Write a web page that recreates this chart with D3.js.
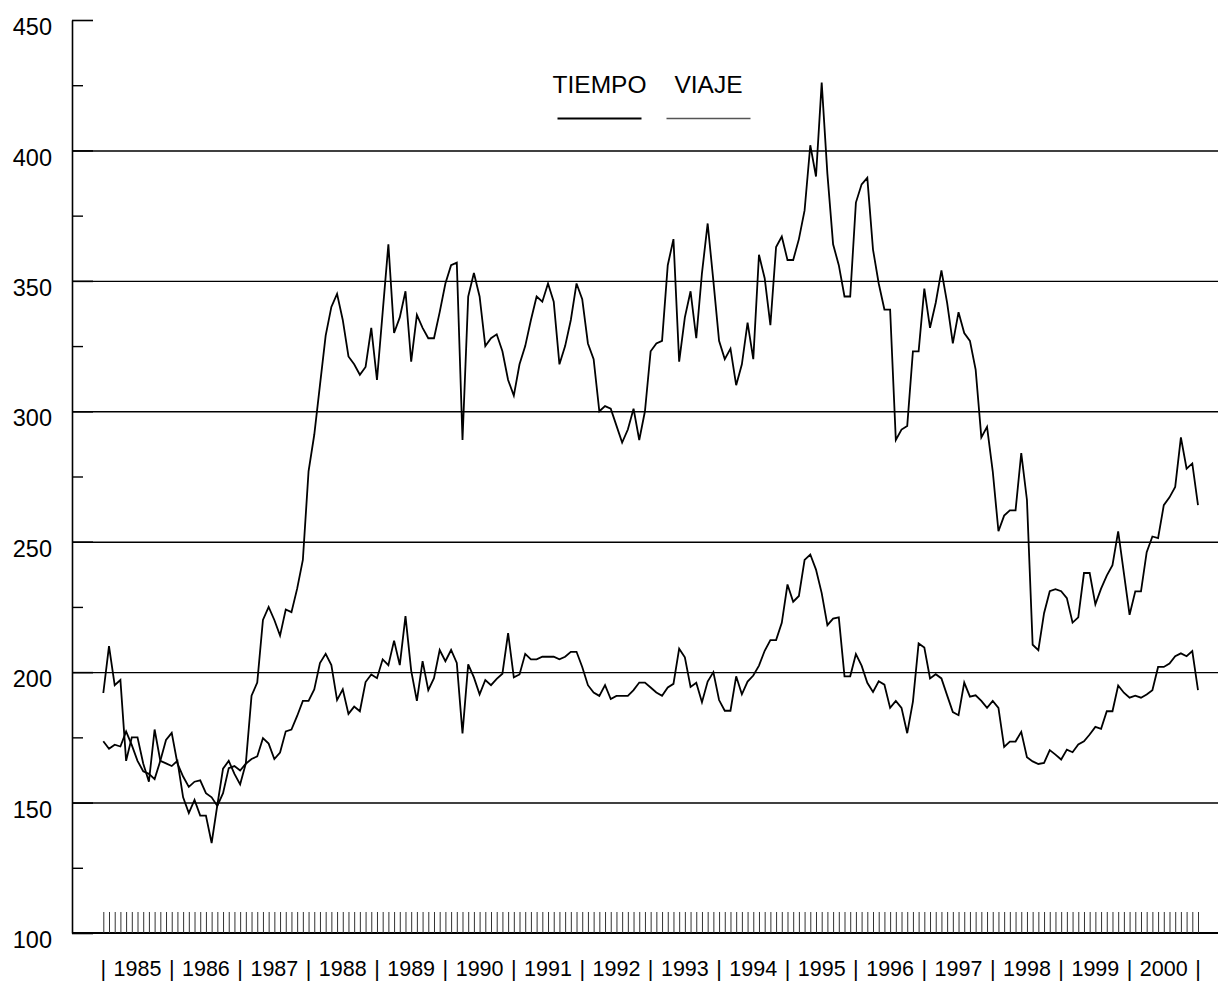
<!DOCTYPE html>
<html>
<head>
<meta charset="utf-8">
<script src="https://cdn.jsdelivr.net/npm/d3@7"></script>
<style>
  html, body { margin: 0; padding: 0; background: #fff; }
  svg { display: block; }
  text { font-family: "Liberation Sans", Arial, sans-serif; fill: #000; }
</style>
</head>
<body>
<svg id="chart" width="1218" height="983"></svg>
<script>
// ---- data (monthly, Jan 1985 onward) ----
const years = [1985,1986,1987,1988,1989,1990,1991,1992,1993,1994,1995,1996,1997,1998,1999,2000];
const yMajorTicks = [100,150,200,250,300,350,400,450];
const yMinorTicks = [125,175,225,275,325,375,425];
const gridValues = [150,200,250,300,350,400];
const seriesNames = ["TIEMPO","VIAJE"];

const tiempo = [
192,210,195,197,166,175,175,165,158,178,166,165,
164,166,152,146,151,145,145,134.5,149,163,166,161,
157,165,191,196,220,225,220,214,224,223,232,243,
277,291,310,329,340,345,335,321,318,314,317,332,
312,338,364,330,336,346,319,337,332,328,328,338,
349,356,357,289,344,353,344,325,328,329.5,323,312,
306,318,325,335,344,342,349,342,318,325,335,349,
343,326,320,300,302,301,294.5,288,293,301,289,300,
323,326,327,356,366,319,336,346,328,353,372,350,
327,320,324,310,318,334,320,360,351,333,363,367,
358,358,366,377,402,390,426,391,364,356,344,344,
380,387,389.5,362,349,339,339,289,293,294.4,323,323,
347,332,341.6,354,341.6,326,338,330,327,316,290,294,
277,254,260,262,262,284,266,210.5,208.4,222.6,231,231.8,
231,228.4,219,221,238,238,226,232,237,241,254,238,
222,231,231,246,252,251.4,264,267,271,290,278,280,
264
];

const viaje = [
173.5,170.6,172.2,171.5,177.3,172,166,162,161,159,166,174,
176.7,165,160,156,158,158.5,153.6,152,148.7,153.6,163.2,164,
162.3,164.9,166.7,167.7,174.7,172.6,166.7,169.2,177.3,178,183.2,189,
189,193.4,203.5,207,202.7,189.3,193.4,184,186.8,185,196.2,199.1,
197.7,204.9,202.7,212.1,202.7,221.5,200.6,189,204.2,193.1,197.7,208.5,
204.2,208.5,203.5,176.5,203,198,191.5,197,195,197.4,199.4,215,
198,199.1,207,204.9,204.9,205.9,205.9,205.9,204.9,205.9,207.8,207.8,
202,195,192.2,190.9,195,189.7,190.9,190.9,190.9,193.1,196,196,
194.1,192.2,190.9,194.1,195.5,209,205.7,194.3,195.9,188.5,196.4,200,
189.3,185.2,185.2,198.4,191.5,196.4,198.7,202.5,208.2,212.3,212.3,218.9,
233.6,227,229.2,243,245.1,239.3,230.3,218,220.5,221,198.4,198.4,
206.9,202.5,195.9,192.4,196.5,195.2,186.3,189,186.3,176.6,188.7,211,
209.4,197.6,199.2,197.6,191.1,184.7,183.5,196,190.6,191.1,189,186.3,
189,186.3,171.3,173.4,173.4,177.1,167.4,165.8,164.8,165.2,170.1,168.4,
166.5,170.3,169.3,172.3,173.5,176.1,179,178.3,185,185,194.9,192.1,
190.2,191,190.2,191.4,193.1,202,202,203.3,206.1,207.2,206.1,208.1,
193.1
];

// ---- layout ----
const W = 1218, H = 983;
const axisX = 72, right = 1218;
const svg = d3.select("#chart");

const nPts = tiempo.length; // 193
const x = d3.scaleLinear().domain([0, nPts - 1]).range([103.3, 1198]);
const y = d3.scaleLinear().domain([100, 450]).range([933, 20]);

// gridlines
const grid = svg.append("g").attr("transform", `translate(${axisX},0)`)
  .call(d3.axisLeft(y).tickValues(gridValues).tickSize(-(right - axisX)).tickFormat(""));
grid.select(".domain").remove();
grid.selectAll("line").attr("stroke", "#000").attr("stroke-width", 1.4);

// major ticks + labels
const yAx = svg.append("g").attr("transform", `translate(${axisX},0)`)
  .call(d3.axisLeft(y).tickValues(yMajorTicks).tickSize(-21).tickSizeOuter(0).tickPadding(20));
yAx.select(".domain").attr("stroke", "#000").attr("stroke-width", 1.6);
yAx.selectAll("line").attr("stroke", "#000").attr("stroke-width", 1.6);
yAx.selectAll("text").attr("font-size", 23.5).attr("dy", "0.62em")
  .style("font-family", "'Liberation Sans', Arial, sans-serif").attr("fill", "#000");

// minor ticks
const yMin = svg.append("g").attr("transform", `translate(${axisX},0)`)
  .call(d3.axisLeft(y).tickValues(yMinorTicks).tickSize(-11).tickFormat(""));
yMin.select(".domain").remove();
yMin.selectAll("line").attr("stroke", "#000").attr("stroke-width", 1.4);

// bottom axis line
svg.append("line").attr("x1", axisX).attr("x2", right)
  .attr("y1", y(100)).attr("y2", y(100)).attr("stroke", "#000").attr("stroke-width", 1.8);

// monthly ticks
const mAx = svg.append("g").attr("transform", `translate(0,${y(100)})`)
  .call(d3.axisBottom(x).tickValues(d3.range(nPts)).tickSize(-21).tickFormat(""));
mAx.select(".domain").remove();
mAx.selectAll("line").attr("stroke", "#333").attr("stroke-width", 1);

// year labels and separators
const labelY = 976;
svg.append("g").selectAll("text.sep").data(d3.range(0, years.length + 1)).join("text")
  .attr("class", "sep").attr("x", d => x(d * 12)).attr("y", labelY)
  .attr("text-anchor", "middle").attr("font-size", 21.5).text("|");
svg.append("g").selectAll("text.yr").data(years).join("text")
  .attr("class", "yr").attr("x", (d, i) => x(i * 12 + 6)).attr("y", labelY)
  .attr("text-anchor", "middle").attr("font-size", 21.5).text(d => d);

// series lines
const line = d3.line().x((d, i) => x(i)).y(d => y(d));
svg.append("path").datum(viaje).attr("d", line)
  .attr("fill", "none").attr("stroke", "#000").attr("stroke-width", 1.8).attr("stroke-linejoin", "miter");
svg.append("path").datum(tiempo).attr("d", line)
  .attr("fill", "none").attr("stroke", "#000").attr("stroke-width", 1.8).attr("stroke-linejoin", "miter");

// legend
const legend = [
  {name: seriesNames[0], cx: 599.5, color: "#000", w: 1.8},
  {name: seriesNames[1], cx: 708.5, color: "#555", w: 1.4}
];
const lg = svg.append("g");
legend.forEach(l => {
  lg.append("text").attr("x", l.cx).attr("y", 93.3).attr("text-anchor", "middle")
    .attr("font-size", 24.5).text(l.name);
  lg.append("line").attr("x1", l.cx - 42).attr("x2", l.cx + 42)
    .attr("y1", 118.5).attr("y2", 118.5).attr("stroke", l.color).attr("stroke-width", l.w);
});
</script>
</body>
</html>
